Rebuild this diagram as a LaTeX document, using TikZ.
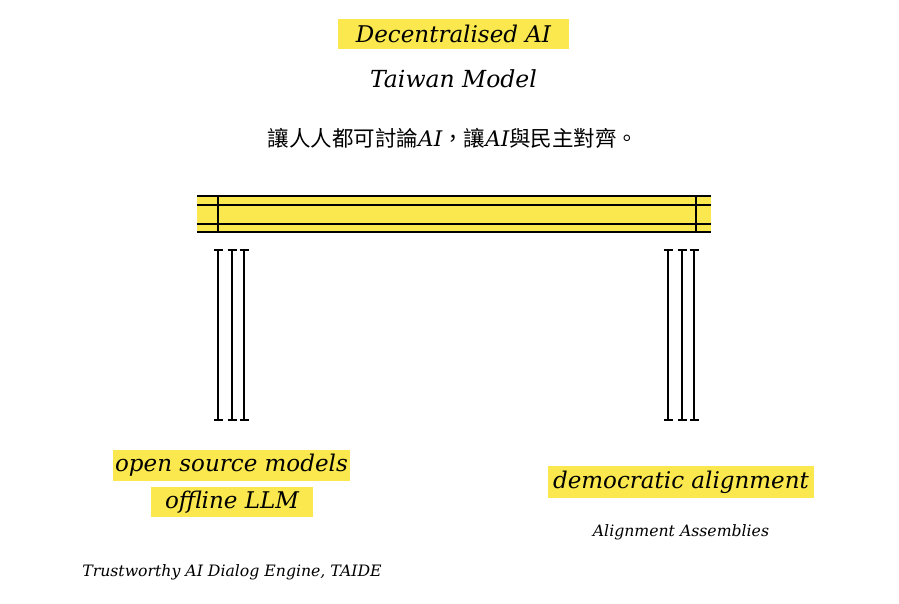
\documentclass[tikz,border=0pt]{standalone}
\usepackage{fontspec}
\setmainfont{DejaVu Serif}
\newfontfamily\cjkfont{Noto Sans CJK TC}
\usetikzlibrary{positioning,arrows.meta}

\definecolor{hilite}{HTML}{FAE84E}
\newcommand{\latin}[1]{{\rmfamily\itshape #1}}

\tikzset{
  marker/.style={fill=hilite,inner sep=0pt,font=\itshape\fontsize{23}{26}\selectfont},
  caption/.style={inner sep=0pt,font=\itshape\fontsize{23.5}{26}\selectfont},
  note/.style={inner sep=0pt,font=\itshape\fontsize{15.7}{18}\selectfont},
  pillar/.style={line width=1.6pt,{Bar[width=9pt,line width=1.6pt]}-{Bar[width=9pt,line width=1.6pt]}},
  beam/.style={line width=1.8pt}
}

\begin{document}
\begin{tikzpicture}[x=1pt,y=-1pt,node distance=45pt,on grid]
\useasboundingbox (0,0) rectangle (899,604);

% heading
\node[marker,minimum width=231pt,minimum height=30pt] (dai) at (453.5,34) {Decentralised AI};
\node[caption] (tw) [below=of dai] {Taiwan Model};
\node[inner sep=0pt,font=\fontsize{21.5}{24}\selectfont] (motto) at (453,138)
  {\cjkfont 讓人人都可討論\latin{AI}，讓\latin{AI}與民主對齊。};

% beam
\fill[hilite] (197,196) rectangle (711,232);
\foreach \y in {196,205,224,232}
  \draw[beam] (197,\y) -- (711,\y);
\foreach \x in {218,696}
  \draw[beam] (\x,196) -- (\x,232);

% pillars
\foreach \x [count=\i] in {218,232,244,668,682,694} {
  \coordinate (top\i) at (\x,249);
  \coordinate (foot\i) at (\x,421);
  \draw[pillar] (top\i) -- (foot\i);
}

% left foot
\node[marker,minimum width=237pt,minimum height=31pt] (osm) at (231.5,465.5) {open source models};
\node[marker,minimum width=162pt,minimum height=30pt] (llm) at (232,502) {offline LLM};
\node[note] (taide) at (232,572) {Trustworthy AI Dialog Engine, TAIDE};

% right foot
\node[marker,minimum width=266pt,minimum height=32pt] (dem) at (681,482) {democratic alignment};
\node[note] (assm) [below=50pt of dem] {Alignment Assemblies};
\end{tikzpicture}
\end{document}
